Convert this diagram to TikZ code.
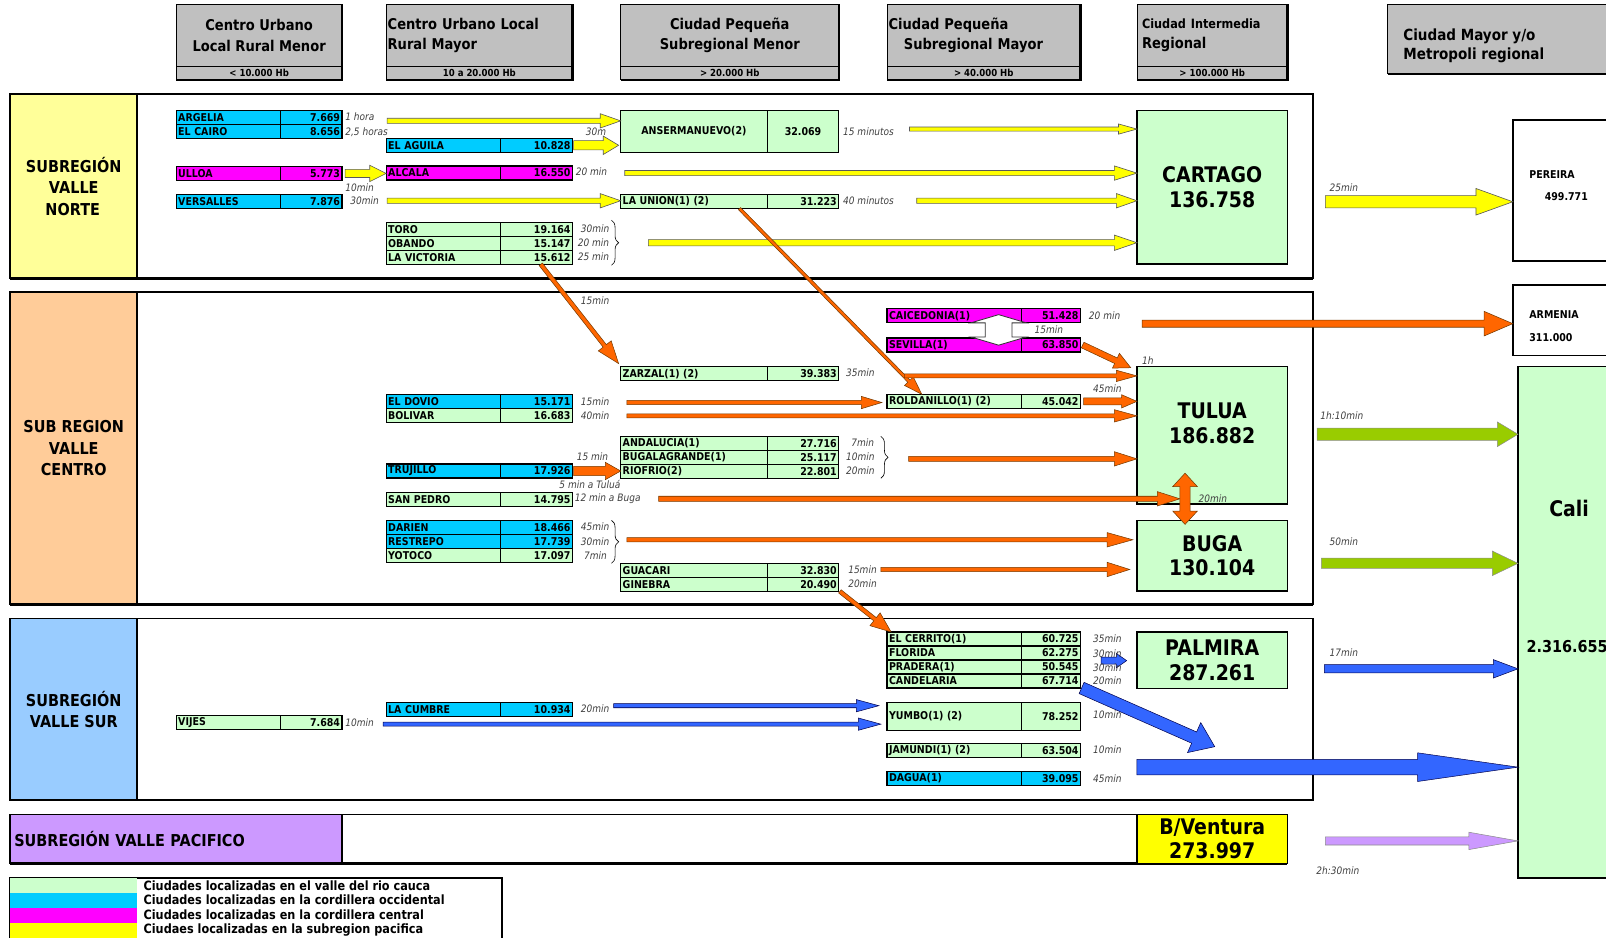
\documentclass[tikz,border=0pt]{standalone}
\usepackage{fontspec}
\setmainfont{DejaVu Sans}[FakeStretch=0.88]
\usetikzlibrary{calc, positioning, decorations.pathreplacing}

\definecolor{hdrgray}{HTML}{C0C0C0}
\definecolor{valle}{HTML}{CCFFCC}
\definecolor{occid}{HTML}{00CCFF}
\definecolor{central}{HTML}{FF00FF}
\definecolor{pacif}{HTML}{FFFF00}
\definecolor{cnorte}{HTML}{FFFF99}
\definecolor{ccentro}{HTML}{FFCC99}
\definecolor{csur}{HTML}{99CCFF}
\definecolor{cpacifico}{HTML}{CC99FF}
\definecolor{arryellow}{HTML}{FFFF00}
\definecolor{arrorange}{HTML}{FF6600}
\definecolor{arrgreen}{HTML}{99CC00}
\definecolor{arrblue}{HTML}{3366FF}
\definecolor{arrpurple}{HTML}{CC99FF}
\definecolor{timegray}{HTML}{404040}

\newcommand\hdrfont{\fontsize{14.5}{20}\selectfont\bfseries}
\newcommand\bandfont{\fontsize{9.5}{11}\selectfont\bfseries}
\newcommand\cellfont{\fontsize{10.5}{11}\selectfont\bfseries}
\newcommand\timefont{\fontsize{10}{11}\selectfont\itshape}
\newcommand\bigfont{\fontsize{21}{24}\selectfont\bfseries}
\newcommand\regfont{\fontsize{16}{21}\selectfont\bfseries}
\newcommand\legfont{\fontsize{12.5}{13}\selectfont\bfseries}

\tikzset{
  hdr/.style={draw, fill=hdrgray, line width=0.8pt, anchor=north west, minimum height=61, inner sep=1.5pt, outer sep=0pt, font=\hdrfont},
  band/.style={draw, fill=hdrgray, line width=0.8pt, anchor=north west, minimum height=13, inner sep=0pt, outer sep=0pt, font=\bandfont},
  shadow/.style={line width=2.4pt},
  regframe/.style={draw, line width=1.5pt, anchor=north west, inner sep=0pt, outer sep=0pt},
  reglabel/.style={draw, line width=1.5pt, anchor=north west, inner sep=0pt, outer sep=0pt, align=center, font=\regfont},
  cell/.style={draw, line width=1.2pt, anchor=north west, minimum height=13.7, inner xsep=2pt, inner ysep=0pt, outer sep=0pt, font=\cellfont},
  bigbox/.style={draw, line width=1.5pt, fill=valle, anchor=north west, minimum width=147, inner sep=0pt, outer sep=0pt, align=center, font=\bigfont},
  whitebox/.style={draw, line width=1.5pt, fill=white, anchor=north west, minimum width=110, inner sep=0pt, outer sep=0pt},
  boxtext/.style={font=\cellfont, anchor=west, inner sep=0pt},
  tlabel/.style={font=\timefont, text=timegray, inner sep=0pt, anchor=west},
  swatch/.style={anchor=north west, minimum width=124, minimum height=14.6, inner sep=0pt, outer sep=0pt},
  legtext/.style={font=\legfont, inner sep=0pt},
  brace/.style={decorate, decoration={brace, amplitude=7pt}, line width=0.6pt},
  yarrow/.style={fill=arryellow, draw=black!65, line width=0.6pt},
  oarrow/.style={fill=arrorange, draw=orange!45!black, line width=0.5pt},
  garrow/.style={fill=arrgreen, draw=black!45, line width=0.5pt},
  bluearrow/.style={fill=arrblue, draw=blue!30!black, line width=0.5pt},
  parrow/.style={fill=arrpurple, draw=black!45, line width=0.5pt},
  warrow/.style={fill=white, draw=black!80, line width=0.8pt}
}

% one row of a table: id, x, y, colour, name, value, name width, value width
\newcommand\cityrow[9][]{%
  \node[cell, fill=#5, text width=#8, align=left, #1] (#2) at (#3,#4) {#6};
  \node[cell, fill=#5, text width=#9, align=right, #1] (#2-v) at (#2.north east) {#7};}

% block arrow: style, from, to, shaft half width, head half width, head length
\newcommand\blockarrow[6]{%
  \coordinate (ba-s) at #2;
  \coordinate (ba-t) at #3;
  \coordinate (ba-h) at ($(ba-t)!#6pt!(ba-s)$);
  \draw[#1] ($(ba-s)!#4pt!90:(ba-t)$) -- ($(ba-h)!#4pt!90:(ba-t)$) -- ($(ba-h)!#5pt!90:(ba-t)$) -- (ba-t)
    -- ($(ba-h)!#5pt!-90:(ba-t)$) -- ($(ba-h)!#4pt!-90:(ba-t)$) -- ($(ba-s)!#4pt!-90:(ba-t)$) -- cycle;}

% block arrow with two heads
\newcommand\dblarrow[6]{%
  \coordinate (da-s) at #2;
  \coordinate (da-t) at #3;
  \coordinate (da-hs) at ($(da-s)!#6pt!(da-t)$);
  \coordinate (da-ht) at ($(da-t)!#6pt!(da-s)$);
  \draw[#1] (da-s) -- ($(da-hs)!#5pt!90:(da-t)$) -- ($(da-hs)!#4pt!90:(da-t)$) -- ($(da-ht)!#4pt!-90:(da-s)$)
    -- ($(da-ht)!#5pt!-90:(da-s)$) -- (da-t) -- ($(da-ht)!#5pt!90:(da-s)$) -- ($(da-ht)!#4pt!90:(da-s)$)
    -- ($(da-hs)!#4pt!-90:(da-t)$) -- ($(da-hs)!#5pt!-90:(da-t)$) -- cycle;}

\begin{document}
\begin{tikzpicture}[x=1pt, y=-1pt]
  \useasboundingbox (0,0) rectangle (1568,915);
  \clip (0,0) rectangle (1568,915);

  % headers
  \node[hdr, minimum width=162, align=center] (h1) at (172,4) {Centro Urbano\\Local Rural Menor};
  \node[band, minimum width=162] (h1b) at (h1.south west) {< 10.000 Hb};
  \node[hdr, text width=179, align=left] (h2) at (377,4) {Centro Urbano Local\\Rural Mayor};
  \node[band, minimum width=182] (h2b) at (h2.south west) {10 a 20.000 Hb};
  \node[hdr, minimum width=213, align=center] (h3) at (606,4) {Ciudad Pequeña\\Subregional Menor};
  \node[band, minimum width=213] (h3b) at (h3.south west) {> 20.000 Hb};
  \node[hdr, text width=186, align=left] (h4) at (866,4) {Ciudad Pequeña\\\hspace*{15pt}Subregional Mayor};
  \node[band, minimum width=189] (h4b) at (h4.south west) {> 40.000 Hb};
  \node[hdr, text width=137, inner xsep=5pt, align=left] (h5) at (1110,4) {{\fontsize{12.5}{20}\selectfont Ciudad Intermedia}\\Regional};
  \node[band, minimum width=147] (h5b) at (h5.south west) {> 100.000 Hb};
  \node[hdr, minimum height=68, minimum width=230] (h6) at (1355,4) {};
  \node[anchor=west, align=left, inner sep=0pt, font=\fontsize{15}{19}\selectfont\bfseries] (h6-t) at (1370,44.5) {Ciudad Mayor y/o\\Metropoli regional};
  \foreach \h in {h1, h2, h3, h4, h5}
    \draw[shadow] (\h.north east) -- (\h b.south east) -- (\h b.south west);
  \draw[shadow] (h6.south west) -- (h6.south east);

  % subregions
  \node[regframe, minimum width=1272, minimum height=180] (norte) at (10,92) {};
  \node[reglabel, fill=cnorte, minimum width=124, minimum height=180] (norte-l) at (10,92) {SUBREGIÓN\\VALLE\\NORTE\hspace*{2pt}};
  \node[regframe, minimum width=1272, minimum height=305] (centro) at (10,285) {};
  \node[reglabel, fill=ccentro, minimum width=124, minimum height=305] (centro-l) at (10,285) {SUB REGION\\VALLE\\CENTRO};
  \node[regframe, minimum width=1272, minimum height=177] (sur) at (10,604) {};
  \node[reglabel, fill=csur, minimum width=124, minimum height=177] (sur-l) at (10,604) {SUBREGIÓN\\VALLE SUR};
  \node[regframe, minimum width=1247, minimum height=48] (pacifico) at (10,795) {};
  \node[reglabel, fill=cpacifico, text width=316, inner xsep=4pt, align=left, minimum height=48] (pacifico-l) at (10,795) {SUBREGIÓN VALLE PACIFICO};
  \foreach \r in {norte, centro, sur, pacifico}
    \draw[shadow] (\r.south west) -- (\r.south east);

  % legend
  \node[regframe, minimum width=480, minimum height=80] (legend) at (10,857) {};
  \node[swatch, fill=valle] (lg1) at (10,857) {};
  \node[swatch, fill=occid, below=0pt of lg1] (lg2) {};
  \node[swatch, fill=central, below=0pt of lg2] (lg3) {};
  \node[swatch, fill=pacif, below=0pt of lg3] (lg4) {};
  \node[legtext, right=6pt of lg1] (lg1-t) {Ciudades localizadas en el valle del rio cauca};
  \node[legtext, right=6pt of lg2] (lg2-t) {Ciudades localizadas en la cordillera occidental};
  \node[legtext, right=6pt of lg3] (lg3-t) {Ciudades localizadas en la cordillera central};
  \node[legtext, right=6pt of lg4] (lg4-t) {Ciudaes localizadas en la subregion pacifica};

  % main cities
  \node[bigbox, minimum height=150] (cartago) at (1110,108) {CARTAGO\\136.758};
  \node[bigbox, minimum height=134] (tulua) at (1110,358) {TULUA\\186.882\\\mbox{}};
  \node[bigbox, minimum height=69] (buga) at (1110,508) {BUGA\\130.104};
  \node[bigbox, minimum height=55] (palmira) at (1110,617) {PALMIRA\\287.261};
  \node[bigbox, minimum height=48, fill=pacif] (bventura) at (1110,795) {B/Ventura\\273.997};
  \node[whitebox, minimum height=138] (pereira) at (1477,117) {};
  \node[boxtext] (pereira-n) at (1493,170) {PEREIRA};
  \node[boxtext] (pereira-p) at (1508,192) {499.771};
  \node[whitebox, minimum height=69] (armenia) at (1477,278) {};
  \node[boxtext] (armenia-n) at (1493,307) {ARMENIA};
  \node[boxtext] (armenia-p) at (1493,330) {311.000};
  \node[bigbox, minimum width=100, minimum height=499] (cali) at (1482,358) {};
  \node[font=\bigfont] (cali-n) at (1532,496) {Cali};
  \node[font=\fontsize{16}{18}\selectfont\bfseries] (cali-p) at (1530,631) {2.316.655};

  % tables, column 1
  \cityrow{argelia}{172}{108}{occid}{ARGELIA}{7.669}{98pt}{56pt}
  \cityrow{elcairo}{172}{121.7}{occid}{EL CAIRO}{8.656}{98pt}{56pt}
  \cityrow{ulloa}{172}{162.5}{central}{ULLOA}{5.773}{98pt}{56pt}
  \cityrow{versalles}{172}{190}{occid}{VERSALLES}{7.876}{98pt}{56pt}
  \cityrow{vijes}{172}{698.5}{valle}{VIJES}{7.684}{98pt}{56pt}
  % column 2
  \cityrow{elaguila}{377}{135}{occid}{EL AGUILA}{10.828}{108pt}{66pt}
  \cityrow{alcala}{377}{162}{central}{ALCALA}{16.550}{108pt}{66pt}
  \cityrow{toro}{377}{217}{valle}{TORO}{19.164}{108pt}{66pt}
  \cityrow{obando}{377}{230.7}{valle}{OBANDO}{15.147}{108pt}{66pt}
  \cityrow{lavictoria}{377}{244.4}{valle}{LA VICTORIA}{15.612}{108pt}{66pt}
  \cityrow{eldovio}{377}{385}{occid}{EL DOVIO}{15.171}{108pt}{66pt}
  \cityrow{bolivar}{377}{398.7}{valle}{BOLIVAR}{16.683}{108pt}{66pt}
  \cityrow{trujillo}{377}{453}{occid}{TRUJILLO}{17.926}{108pt}{66pt}
  \cityrow{sanpedro}{377}{480.5}{valle}{SAN PEDRO}{14.795}{108pt}{66pt}
  \cityrow{darien}{377}{508}{occid}{DARIEN}{18.466}{108pt}{66pt}
  \cityrow{restrepo}{377}{521.7}{occid}{RESTREPO}{17.739}{108pt}{66pt}
  \cityrow{yotoco}{377}{535.4}{valle}{YOTOCO}{17.097}{108pt}{66pt}
  \cityrow{lacumbre}{377}{686}{occid}{LA CUMBRE}{10.934}{108pt}{66pt}
  % column 3
  \cityrow[minimum height=41, align=center]{anser}{606}{108}{valle}{ANSERMANUEVO(2)}{32.069}{139pt}{66pt}
  \cityrow{launion}{606}{190}{valle}{LA UNION(1) (2)}{31.223}{139pt}{66pt}
  \cityrow{zarzal}{606}{358}{valle}{ZARZAL(1) (2)}{39.383}{139pt}{66pt}
  \cityrow{andalucia}{606}{426}{valle}{ANDALUCIA(1)}{27.716}{139pt}{66pt}
  \cityrow{bugalagrande}{606}{439.7}{valle}{BUGALAGRANDE(1)}{25.117}{139pt}{66pt}
  \cityrow{riofrio}{606}{453.4}{valle}{RIOFRIO(2)}{22.801}{139pt}{66pt}
  \cityrow{guacari}{606}{550}{valle}{GUACARI}{32.830}{139pt}{66pt}
  \cityrow{ginebra}{606}{563.7}{valle}{GINEBRA}{20.490}{139pt}{66pt}
  % column 4
  \cityrow{caicedonia}{866}{301.5}{central}{CAICEDONIA(1)}{51.428}{127pt}{54pt}
  \cityrow{sevilla}{866}{330}{central}{SEVILLA(1)}{63.850}{127pt}{54pt}
  \cityrow{roldanillo}{866}{385}{valle}{ROLDANILLO(1) (2)}{45.042}{127pt}{54pt}
  \cityrow{elcerrito}{866}{617}{valle}{EL CERRITO(1)}{60.725}{127pt}{54pt}
  \cityrow{florida}{866}{630.7}{valle}{FLORIDA}{62.275}{127pt}{54pt}
  \cityrow{pradera}{866}{644.4}{valle}{PRADERA(1)}{50.545}{127pt}{54pt}
  \cityrow{candelaria}{866}{658}{valle}{CANDELARIA}{67.714}{127pt}{54pt}
  \cityrow[minimum height=27]{yumbo}{866}{686}{valle}{YUMBO(1) (2)}{78.252\hspace*{12pt}}{127pt}{54pt}
  \cityrow{jamundi}{866}{726}{valle}{JAMUNDI(1) (2)}{63.504}{127pt}{54pt}
  \cityrow{dagua}{866}{753}{occid}{DAGUA(1)}{39.095}{127pt}{54pt}

  % braces
  \draw[brace] (597,215) -- (597,259);
  \draw[brace] (860,426) -- (860,467);
  \draw[brace] (597,508) -- (597,550);

  % north arrows
  \coordinate (ya1) at (378,118);
  \blockarrow{yarrow}{(ya1)}{(ya1 -| anser.west)}{2.5}{7}{20}
  \blockarrow{yarrow}{([xshift=1pt]elaguila-v.east)}{($(elaguila-v.east -| anser.west)+(-2,0)$)}{4.5}{9}{15}
  \blockarrow{yarrow}{([xshift=3pt]ulloa-v.east)}{(ulloa-v.east -| alcala.west)}{4}{8}{16}
  \coordinate (ya4) at (610,169);
  \blockarrow{yarrow}{(ya4)}{(ya4 -| cartago.west)}{2.5}{7}{22}
  \coordinate (ya5) at (378,196);
  \blockarrow{yarrow}{(ya5)}{(ya5 -| launion.west)}{2.5}{7}{20}
  \coordinate (ya6) at (888,126);
  \blockarrow{yarrow}{(ya6)}{(ya6 -| cartago.west)}{2}{5}{18}
  \coordinate (ya7) at (895,196);
  \blockarrow{yarrow}{(ya7)}{(ya7 -| cartago.west)}{2.5}{7}{20}
  \coordinate (ya8) at (633,237);
  \blockarrow{yarrow}{(ya8)}{(ya8 -| cartago.west)}{3}{7.5}{22}
  \coordinate (ya9) at (1294,197);
  \blockarrow{yarrow}{(ya9)}{(ya9 -| pereira.west)}{6}{13}{36}

  % centre arrows
  \blockarrow{oarrow}{($(lavictoria-v.south)+(4,0)$)}{($(zarzal.north west)+(-2,-3)$)}{2}{8}{22}
  \blockarrow{oarrow}{($(launion.south east)+(-27,0)$)}{($(roldanillo.north west)+(34,0)$)}{1.5}{6}{18}
  \coordinate (oa3) at (1115,316);
  \blockarrow{oarrow}{(oa3)}{(oa3 -| armenia.west)}{3.5}{12}{28}
  \blockarrow{oarrow}{([xshift=2pt]sevilla-v.east)}{($(tulua.north west)+(-6,1)$)}{3}{8}{16}
  \coordinate (oa5) at (883,367);
  \blockarrow{oarrow}{(oa5)}{(oa5 -| tulua.west)}{2}{5.5}{20}
  \coordinate (oa6) at (612,393);
  \blockarrow{oarrow}{(oa6)}{($(oa6 -| roldanillo.west)+(-5,0)$)}{2}{6}{20}
  \blockarrow{oarrow}{([xshift=3pt]roldanillo-v.east)}{(roldanillo-v.east -| tulua.west)}{3.5}{6.5}{15}
  \coordinate (oa8) at (612,406);
  \blockarrow{oarrow}{(oa8)}{(oa8 -| tulua.west)}{2}{6}{22}
  \blockarrow{oarrow}{([xshift=1pt]trujillo-v.east)}{(trujillo-v.east -| riofrio.west)}{4.5}{8.5}{15}
  \coordinate (oa10) at (887,448);
  \blockarrow{oarrow}{(oa10)}{(oa10 -| tulua.west)}{2.5}{7}{22}
  \coordinate (tb-top) at ($(tulua.south)+(-26.5,-30)$);
  \coordinate (tb-bot) at ($(buga.north)+(-26.5,4)$);
  \coordinate (oa11) at (643,487);
  \blockarrow{oarrow}{(oa11)}{($(oa11 -| tb-top)+(-5,0)$)}{2.5}{7}{22}
  \dblarrow{oarrow}{(tb-top)}{(tb-bot)}{5}{12}{13}
  \coordinate (oa13) at (612,527);
  \blockarrow{oarrow}{(oa13)}{($(oa13 -| buga.west)+(-4,0)$)}{2}{7}{25}
  \coordinate (oa14) at (860,556);
  \blockarrow{oarrow}{(oa14)}{($(oa14 -| buga.west)+(-7,0)$)}{2}{7}{22}
  \blockarrow{oarrow}{([xshift=1pt]ginebra-v.south east)}{($(elcerrito.north west)+(4,0)$)}{2}{8}{20}
  \dblarrow{warrow}{($(caicedonia.south east)+(-22,-8)$)}{($(sevilla.north east)+(-22,7)$)}{13}{27}{8}

  % arrows to Cali
  \coordinate (ga1) at (1286,424);
  \blockarrow{garrow}{(ga1)}{(ga1 -| cali.west)}{6}{12}{20}
  \coordinate (ga2) at (1290,550);
  \blockarrow{garrow}{(ga2)}{(ga2 -| cali.west)}{5}{12}{25}

  % south arrows
  \coordinate (ba1) at (374,707);
  \blockarrow{bluearrow}{(ba1)}{($(ba1 -| yumbo.west)+(-6,0)$)}{2}{6}{22}
  \coordinate (ba2) at (599,689);
  \blockarrow{bluearrow}{(ba2)}{($(ba2 -| yumbo.west)+(-8,0)$)}{2}{6}{22}
  \coordinate (ba3) at (1075,645);
  \blockarrow{bluearrow}{(ba3)}{($(ba3 -| palmira.west)+(-10,0)$)}{3.5}{7}{10}
  \coordinate (ba4) at (1186,729);
  \blockarrow{bluearrow}{([xshift=1pt]candelaria-v.south east)}{(ba4)}{6}{16}{22}
  \coordinate (ba5) at (1110,749);
  \blockarrow{bluearrow}{(ba5)}{(ba5 -| cali.west)}{7.5}{14}{98}
  \coordinate (ba6) at (1293,653);
  \blockarrow{bluearrow}{(ba6)}{(ba6 -| cali.west)}{4}{9}{24}
  \coordinate (pa1) at (1294,821);
  \blockarrow{parrow}{(pa1)}{(pa1 -| cali.west)}{4}{8.5}{48}

  % travel times
  \node[tlabel] (t-argelia) at (337,114) {1 hora};
  \node[tlabel] (t-elcairo) at (337,129) {2,5 horas};
  \node[tlabel, anchor=east] (t-elaguila) at (592,129) {30m};
  \node[tlabel] (t-ulloa) at (337,183) {10min};
  \node[tlabel] (t-versalles) at (342,196) {30min};
  \node[tlabel] (t-alcala) at (562,168) {20 min};
  \node[tlabel] (t-anser) at (823,129) {15 minutos};
  \node[tlabel] (t-launion) at (823,196) {40 minutos};
  \node[tlabel] (t-toro) at (567,223) {30min};
  \node[tlabel] (t-obando) at (564,237) {20 min};
  \node[tlabel] (t-lavictoria) at (564,251) {25 min};
  \node[tlabel] (t-zarzal1) at (567,294) {15min};
  \node[tlabel] (t-caicedonia) at (1063,308) {20 min};
  \node[tlabel] (t-sevilla1) at (1010,322) {15min};
  \node[tlabel] (t-sevilla2) at (1115,352) {1h};
  \node[tlabel] (t-zarzal) at (826,364) {35min};
  \node[tlabel] (t-roldanillo) at (1067,379) {45min};
  \node[tlabel] (t-eldovio) at (567,392) {15min};
  \node[tlabel] (t-bolivar) at (567,406) {40min};
  \node[tlabel] (t-andalucia) at (831,432) {7min};
  \node[tlabel] (t-bugalagrande) at (826,446) {10min};
  \node[tlabel] (t-riofrio) at (826,460) {20min};
  \node[tlabel] (t-trujillo) at (563,446) {15 min};
  \node[tlabel] (t-sanpedro1) at (546,473) {5 min a Tuluá};
  \node[tlabel] (t-sanpedro2) at (561,487) {12 min a Buga};
  \node[tlabel] (t-tulbuga) at (1170,487) {20min};
  \node[tlabel] (t-darien) at (567,514) {45min};
  \node[tlabel] (t-restrepo) at (567,529) {30min};
  \node[tlabel] (t-yotoco) at (570,542) {7min};
  \node[tlabel] (t-guacari) at (828,556) {15min};
  \node[tlabel] (t-ginebra) at (828,570) {20min};
  \node[tlabel] (t-cartago) at (1298,183) {25min};
  \node[tlabel] (t-tulua) at (1289,406) {1h:10min};
  \node[tlabel] (t-buga) at (1298,529) {50min};
  \node[tlabel] (t-palmira) at (1298,637) {17min};
  \node[tlabel] (t-bventura) at (1285,850) {2h:30min};
  \node[tlabel] (t-elcerrito) at (1067,624) {35min};
  \node[tlabel] (t-florida) at (1067,638) {30min};
  \node[tlabel] (t-pradera) at (1067,652) {30min};
  \node[tlabel] (t-candelaria) at (1067,665) {20min};
  \node[tlabel] (t-lacumbre) at (567,692) {20min};
  \node[tlabel] (t-vijes) at (337,706) {10min};
  \node[tlabel] (t-yumbo) at (1067,698) {10min};
  \node[tlabel] (t-jamundi) at (1067,732) {10min};
  \node[tlabel] (t-dagua) at (1067,760) {45min};
\end{tikzpicture}
\end{document}
